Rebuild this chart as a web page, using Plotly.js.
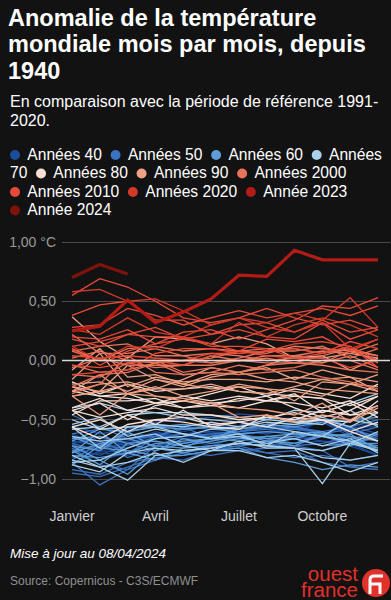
<!DOCTYPE html>
<html>
<head>
<meta charset="utf-8">
<script src="https://cdn.plot.ly/plotly-3.0.1.min.js"></script>
<style>
  html, body { margin: 0; padding: 0; background: #121212; }
  #chart { width: 391px; height: 600px; }
</style>
</head>
<body>
<div id="chart"></div>
<script>
// ---- Données ----
const mois = [1, 2, 3, 4, 5, 6, 7, 8, 9, 10, 11, 12];
const moisTicks = [1, 4, 7, 10];
const moisLabels = ['Janvier', 'Avril', 'Juillet', 'Octobre'];
const yTicks = [-1, -0.5, 0, 0.5, 1];
const yLabels = ['\u22121,00', '\u22120,50', '0,00', '0,50', '1,00 °C'];

const legendeLabels = ['Années 40', 'Années 50', 'Années 60', 'Années 70', 'Années 80', 'Années 90',
  'Années 2000', 'Années 2010', 'Années 2020', 'Année 2023', 'Année 2024'];
const legendeCouleurs = ['#1c4c9c', '#3a73c2', '#5d9dd9', '#a9d0ea', '#f7e0d6', '#f0a184',
  '#e97259', '#e94a38', '#d33a29', '#b31b17', '#7e130b'];

const annees40 = [
  [-0.82,-0.78,-0.80,-0.72,-0.70,-0.68,-0.62,-0.60,-0.58,-0.62,-0.55,-0.62],
  [-0.70,-0.65,-0.72,-0.62,-0.60,-0.55,-0.52,-0.58,-0.62,-0.50,-0.58,-0.55],
  [-0.68,-0.72,-0.66,-0.64,-0.62,-0.60,-0.66,-0.70,-0.62,-0.64,-0.68,-0.66],
  [-0.78,-0.74,-0.70,-0.62,-0.66,-0.64,-0.60,-0.62,-0.56,-0.50,-0.58,-0.52],
  [-0.55,-0.62,-0.58,-0.52,-0.50,-0.48,-0.45,-0.47,-0.50,-0.52,-0.60,-0.64],
  [-0.62,-0.72,-0.60,-0.54,-0.58,-0.56,-0.55,-0.48,-0.50,-0.52,-0.64,-0.78],
  [-0.66,-0.70,-0.68,-0.60,-0.66,-0.72,-0.64,-0.66,-0.64,-0.68,-0.70,-0.80],
  [-0.74,-0.80,-0.70,-0.66,-0.62,-0.60,-0.62,-0.60,-0.58,-0.52,-0.60,-0.68],
  [-0.70,-0.84,-0.78,-0.66,-0.64,-0.62,-0.66,-0.64,-0.66,-0.64,-0.70,-0.76],
  [-0.88,-0.76,-0.78,-0.70,-0.72,-0.74,-0.70,-0.72,-0.70,-0.68,-0.72,-0.80]
];
const annees50 = [
  [-0.95,-0.98,-0.90,-0.82,-0.80,-0.76,-0.74,-0.78,-0.76,-0.86,-0.90,-0.86],
  [-0.86,-1.05,-0.92,-0.72,-0.64,-0.62,-0.60,-0.56,-0.54,-0.50,-0.62,-0.56],
  [-0.66,-0.68,-0.78,-0.66,-0.62,-0.64,-0.60,-0.58,-0.56,-0.62,-0.72,-0.64],
  [-0.62,-0.58,-0.56,-0.54,-0.56,-0.58,-0.60,-0.56,-0.58,-0.60,-0.66,-0.62],
  [-0.84,-0.70,-0.82,-0.74,-0.78,-0.80,-0.76,-0.74,-0.72,-0.70,-0.64,-0.78],
  [-0.74,-0.88,-0.92,-0.84,-0.78,-0.74,-0.72,-0.70,-0.74,-0.76,-0.90,-0.92],
  [-0.92,-0.96,-0.86,-0.82,-0.84,-0.76,-0.72,-0.78,-0.82,-0.80,-0.84,-0.80],
  [-0.76,-0.72,-0.74,-0.64,-0.58,-0.56,-0.60,-0.54,-0.56,-0.60,-0.56,-0.50],
  [-0.46,-0.56,-0.66,-0.64,-0.56,-0.66,-0.62,-0.66,-0.70,-0.62,-0.58,-0.64],
  [-0.70,-0.76,-0.62,-0.64,-0.70,-0.66,-0.64,-0.66,-0.72,-0.76,-0.68,-0.66]
];
const annees60 = [
  [-0.72,-0.84,-0.96,-0.76,-0.70,-0.66,-0.68,-0.64,-0.62,-0.60,-0.72,-0.62],
  [-0.68,-0.58,-0.60,-0.56,-0.58,-0.56,-0.62,-0.60,-0.62,-0.64,-0.62,-0.76],
  [-0.66,-0.64,-0.70,-0.68,-0.72,-0.68,-0.64,-0.66,-0.64,-0.62,-0.64,-0.68],
  [-0.78,-0.60,-0.78,-0.70,-0.68,-0.66,-0.58,-0.54,-0.50,-0.48,-0.56,-0.68],
  [-0.64,-0.74,-0.76,-0.80,-0.80,-0.76,-0.74,-0.82,-0.86,-0.92,-0.88,-0.90],
  [-0.80,-0.82,-0.78,-0.84,-0.74,-0.72,-0.70,-0.68,-0.70,-0.64,-0.70,-0.70],
  [-0.78,-0.70,-0.66,-0.72,-0.74,-0.64,-0.62,-0.68,-0.66,-0.72,-0.70,-0.74],
  [-0.76,-0.88,-0.70,-0.76,-0.66,-0.70,-0.66,-0.64,-0.66,-0.60,-0.68,-0.72],
  [-0.88,-0.72,-0.60,-0.74,-0.78,-0.72,-0.70,-0.68,-0.72,-0.62,-0.64,-0.74],
  [-0.72,-0.76,-0.60,-0.56,-0.54,-0.56,-0.58,-0.54,-0.56,-0.52,-0.50,-0.48]
];
const annees70 = [
  [-0.54,-0.48,-0.64,-0.58,-0.62,-0.66,-0.64,-0.70,-0.66,-0.72,-0.66,-0.78],
  [-0.80,-0.90,-1.01,-0.80,-0.76,-0.74,-0.70,-0.72,-0.74,-0.76,-0.70,-0.76],
  [-0.86,-0.84,-0.74,-0.66,-0.64,-0.58,-0.56,-0.52,-0.54,-0.50,-0.56,-0.44],
  [-0.40,-0.36,-0.42,-0.44,-0.48,-0.50,-0.52,-0.56,-0.60,-0.64,-0.68,-0.76],
  [-0.88,-0.94,-0.78,-0.74,-0.76,-0.74,-0.70,-0.72,-0.74,-0.82,-0.84,-0.80],
  [-0.64,-0.68,-0.66,-0.62,-0.72,-0.76,-0.76,-0.82,-0.80,-0.86,-0.94,-0.86],
  [-0.84,-0.90,-0.86,-0.78,-0.86,-0.76,-0.68,-0.74,-0.74,-1.04,-0.70,-0.60],
  [-0.58,-0.56,-0.46,-0.44,-0.44,-0.46,-0.48,-0.50,-0.52,-0.54,-0.42,-0.56],
  [-0.50,-0.58,-0.56,-0.56,-0.62,-0.66,-0.62,-0.72,-0.60,-0.64,-0.50,-0.54],
  [-0.56,-0.74,-0.56,-0.54,-0.56,-0.52,-0.56,-0.50,-0.42,-0.44,-0.36,-0.28]
];
const annees80 = [
  [-0.40,-0.32,-0.42,-0.36,-0.30,-0.34,-0.30,-0.34,-0.36,-0.40,-0.34,-0.44],
  [-0.22,-0.30,-0.28,-0.36,-0.40,-0.36,-0.34,-0.30,-0.40,-0.48,-0.42,-0.30],
  [-0.56,-0.50,-0.60,-0.50,-0.48,-0.54,-0.52,-0.56,-0.48,-0.50,-0.52,-0.34],
  [-0.26,-0.30,-0.32,-0.36,-0.34,-0.38,-0.40,-0.34,-0.28,-0.44,-0.36,-0.48],
  [-0.42,-0.58,-0.46,-0.54,-0.42,-0.56,-0.52,-0.48,-0.44,-0.50,-0.60,-0.68],
  [-0.56,-0.66,-0.54,-0.50,-0.52,-0.56,-0.58,-0.46,-0.52,-0.50,-0.60,-0.52],
  [-0.42,-0.48,-0.44,-0.40,-0.46,-0.46,-0.50,-0.48,-0.50,-0.42,-0.46,-0.44],
  [-0.42,-0.36,-0.50,-0.38,-0.34,-0.28,-0.22,-0.30,-0.24,-0.28,-0.32,-0.20],
  [-0.18,-0.28,-0.20,-0.26,-0.24,-0.22,-0.26,-0.28,-0.30,-0.32,-0.46,-0.38],
  [-0.46,-0.34,-0.34,-0.32,-0.40,-0.38,-0.32,-0.34,-0.30,-0.32,-0.38,-0.30]
];
const annees90 = [
  [-0.30,-0.26,-0.04,-0.16,-0.20,-0.24,-0.22,-0.24,-0.34,-0.18,-0.20,-0.26],
  [-0.20,-0.18,-0.26,-0.16,-0.22,-0.14,-0.10,-0.16,-0.18,-0.24,-0.26,-0.28],
  [-0.22,-0.26,-0.20,-0.30,-0.32,-0.36,-0.48,-0.46,-0.52,-0.46,-0.50,-0.38],
  [-0.30,-0.26,-0.28,-0.30,-0.34,-0.36,-0.40,-0.42,-0.46,-0.36,-0.52,-0.40],
  [-0.30,-0.46,-0.28,-0.24,-0.24,-0.20,-0.26,-0.28,-0.22,-0.16,-0.14,-0.18],
  [-0.08,0.10,-0.14,-0.12,-0.20,-0.12,-0.10,-0.06,-0.16,-0.08,-0.14,-0.26],
  [-0.26,-0.12,-0.28,-0.22,-0.30,-0.26,-0.20,-0.24,-0.26,-0.30,-0.20,-0.22],
  [-0.26,-0.20,-0.18,-0.24,-0.16,-0.06,-0.10,-0.04,0.04,0.02,0.06,0.02],
  [0.37,0.16,0.02,0.20,0.18,0.14,0.20,0.14,0.02,0.04,-0.08,0.02],
  [-0.16,0.06,-0.22,-0.14,-0.18,-0.16,-0.16,-0.18,-0.14,-0.16,-0.20,-0.12]
];
const annees2000 = [
  [-0.22,-0.12,-0.10,-0.02,-0.12,-0.10,-0.12,-0.10,-0.08,-0.14,-0.18,-0.24],
  [-0.12,-0.14,-0.02,-0.06,-0.04,-0.04,0.00,0.02,-0.02,-0.02,0.08,0.00],
  [0.08,0.12,0.14,0.04,0.04,0.06,0.04,0.00,0.02,-0.02,0.04,-0.06],
  [0.08,0.00,0.00,-0.02,0.00,-0.02,0.02,0.08,0.08,0.12,0.02,0.10],
  [0.02,0.08,0.00,0.00,-0.10,-0.06,-0.10,-0.04,-0.02,0.04,0.10,-0.02],
  [0.10,0.00,0.10,0.12,0.08,0.10,0.08,0.06,0.12,0.10,0.08,0.04],
  [-0.06,0.02,-0.04,-0.04,-0.04,0.04,0.00,0.04,0.04,0.08,0.06,0.14],
  [0.22,0.06,0.06,0.10,0.04,-0.02,0.00,-0.02,-0.02,-0.04,-0.08,-0.10],
  [-0.28,-0.20,0.04,-0.10,-0.12,-0.10,-0.04,-0.08,-0.06,0.00,0.00,-0.08],
  [-0.04,-0.10,-0.08,-0.02,0.00,0.02,0.08,0.10,0.10,0.06,0.10,0.04]
];
const annees2010 = [
  [0.12,0.16,0.22,0.20,0.20,0.12,0.12,0.10,0.02,0.06,0.12,-0.06],
  [-0.04,-0.06,-0.02,0.00,-0.04,0.04,0.08,0.04,0.02,0.02,-0.06,0.00],
  [-0.12,-0.10,-0.08,0.06,0.10,0.10,0.06,0.08,0.14,0.16,0.12,0.00],
  [0.04,0.02,0.04,0.02,0.00,0.06,0.06,0.08,0.10,0.06,0.16,0.10],
  [0.10,-0.04,0.08,0.14,0.18,0.14,0.08,0.18,0.16,0.20,0.08,0.18],
  [0.20,0.18,0.26,0.14,0.24,0.26,0.18,0.26,0.34,0.46,0.44,0.53],
  [0.55,0.69,0.62,0.50,0.36,0.32,0.36,0.44,0.36,0.30,0.34,0.26],
  [0.38,0.47,0.50,0.34,0.34,0.22,0.30,0.32,0.24,0.34,0.24,0.28],
  [0.18,0.12,0.22,0.28,0.18,0.22,0.26,0.20,0.18,0.32,0.18,0.26],
  [0.28,0.30,0.44,0.38,0.30,0.36,0.42,0.36,0.40,0.44,0.38,0.46]
];
const annees2020 = [
  [0.58,0.60,0.50,0.52,0.42,0.30,0.36,0.32,0.40,0.34,0.53,0.28],
  [0.12,0.00,0.12,0.10,0.20,0.14,0.32,0.20,0.30,0.36,0.30,0.20],
  [0.26,0.22,0.36,0.24,0.20,0.30,0.36,0.28,0.24,0.32,0.10,0.18]
];
const annee2023 = [0.25,0.29,0.51,0.32,0.41,0.52,0.72,0.71,0.93,0.85,0.85,0.85];
const annee2024 = [0.70,0.81,0.73];

// ---- Traces ----
const groupes = [annees40, annees50, annees60, annees70, annees80, annees90,
  annees2000, annees2010, annees2020, [annee2023], [annee2024]];
const traces = [];
groupes.forEach((g, gi) => {
  const epais = gi >= 9;
  g.forEach(vals => {
    traces.push({
      type: 'scatter', mode: 'lines',
      x: mois.slice(0, vals.length), y: vals,
      line: { color: legendeCouleurs[gi], width: epais ? 3.2 : 1.3 },
      hoverinfo: 'skip', showlegend: false
    });
  });
});

// ---- Layout helpers ----
const FONT = 'Liberation Sans, Arial, Helvetica, sans-serif';
const W = 391, L = 62, R = 1, T = 232, B = 103;
const PW = W - L - R, PH = 600 - T - B;
const px = x => (x - L) / PW;          // pixel -> paper x
const py = y => (600 - B - y) / PH;    // pixel -> paper y

// ---- Légende (texte + pastilles) ----
const LEG_SIZE = 15.6;
const ctx = document.createElement('canvas').getContext('2d');
ctx.font = LEG_SIZE + 'px "Liberation Sans"';
const largeur = s => ctx.measureText(s).width;
const NB = '\u00a0';
const SLOT = NB.repeat(4), GAP = NB.repeat(2);
const [mot70a, mot70b] = legendeLabels[3].split(' ');
const rangsSpec = [
  [['d', 0], ['t', legendeLabels[0]], ['g'], ['d', 1], ['t', legendeLabels[1]], ['g'],
   ['d', 2], ['t', legendeLabels[2]], ['g'], ['d', 3], ['t', mot70a]],
  [['t', mot70b], ['g'], ['d', 4], ['t', legendeLabels[4]], ['g'], ['d', 5], ['t', legendeLabels[5]], ['g'],
   ['d', 6], ['t', legendeLabels[6]]],
  [['d', 7], ['t', legendeLabels[7]], ['g'], ['d', 8], ['t', legendeLabels[8]], ['g'],
   ['d', 9], ['t', legendeLabels[9]]],
  [['d', 10], ['t', legendeLabels[10]]]
];
const rangY = [155, 173.5, 192, 210.5];
const X0 = 9;
const pastilles = [];
const rangsTexte = rangsSpec.map((spec, r) => {
  let x = X0, s = '';
  spec.forEach(tok => {
    if (tok[0] === 'd') {
      pastilles.push({ i: tok[1], cx: x + 6, cy: rangY[r] });
      s += SLOT; x += largeur(SLOT);
    } else if (tok[0] === 't') {
      s += tok[1]; x += largeur(tok[1]);
    } else {
      s += GAP; x += largeur(GAP);
    }
  });
  return s;
});

const annotations = [];
annotations.push({
  xref: 'paper', yref: 'paper', x: px(8), y: py(111), xanchor: 'left', yanchor: 'middle',
  align: 'left', showarrow: false,
  text: '<span style="font-size:16px">En comparaison avec la période de référence 1991-</span><br><span style="font-size:16px">2020.</span>',
  font: { family: FONT, size: 14.6, color: '#ffffff' }
});
annotations.push({
  xref: 'paper', yref: 'paper', x: px(X0 - 1), y: py(182.5), xanchor: 'left', yanchor: 'middle',
  align: 'left', showarrow: false,
  text: rangsTexte.map(t => `<span style="font-size:${LEG_SIZE}px">${t}</span>`).join('<br>'),
  font: { family: FONT, size: 14.23, color: '#ffffff' }
});
annotations.push({
  xref: 'paper', yref: 'paper', x: px(8), y: py(553), xanchor: 'left', yanchor: 'middle',
  showarrow: false, text: '<i>Mise à jour au 08/04/2024</i>',
  font: { family: FONT, size: 13.5, color: '#ffffff' }
});
annotations.push({
  xref: 'paper', yref: 'paper', x: px(8), y: py(581), xanchor: 'left', yanchor: 'middle',
  showarrow: false, text: 'Source: Copernicus - C3S/ECMWF',
  font: { family: FONT, size: 12, color: '#8f8f8f' }
});
annotations.push({
  xref: 'paper', yref: 'paper', x: px(360), y: py(581), xanchor: 'right', yanchor: 'middle',
  align: 'right', showarrow: false,
  text: '<span style="font-size:20.5px">ouest</span><br><span style="font-size:20.5px">france</span>',
  font: { family: FONT, size: 12.3, color: '#e2302a' }
});

const RAYON = 5;
const shapes = [
  { type: 'line', xref: 'paper', yref: 'y', x0: 0, x1: 1, y0: 0, y1: 0,
    line: { color: '#d8d8d8', width: 1.5 }, layer: 'above' },
  { type: 'circle', xref: 'paper', yref: 'paper', x0: px(362), x1: px(390), y0: py(597), y1: py(569),
    fillcolor: '#e2302a', line: { width: 0 } },
  { type: 'path', xref: 'paper', yref: 'paper',
    path: `M ${px(383)},${py(576)} L ${px(374)},${py(576)} Q ${px(370)},${py(576)} ${px(370)},${py(580)} L ${px(370)},${py(594)} M ${px(370)},${py(584)} L ${px(380)},${py(584)} L ${px(380)},${py(594)}`,
    line: { color: '#ffffff', width: 3 } }
].concat(pastilles.map(p => ({
  type: 'circle', xref: 'paper', yref: 'paper',
  x0: px(p.cx - RAYON), x1: px(p.cx + RAYON), y0: py(p.cy + RAYON), y1: py(p.cy - RAYON),
  fillcolor: legendeCouleurs[p.i], line: { width: 0 }
})));

const titre = ['Anomalie de la température', 'mondiale mois par mois, depuis', '1940']
  .map(l => `<span style="font-size:23.5px">${l}</span>`).join('<br>');

const layout = {
  width: 391, height: 600,
  paper_bgcolor: '#121212', plot_bgcolor: '#121212',
  margin: { l: L, r: R, t: T, b: B },
  showlegend: false,
  title: {
    text: titre, x: 8 / 391, xref: 'container', xanchor: 'left',
    y: 1 - 25.5 / 600, yref: 'container', yanchor: 'top',
    font: { family: FONT, size: 20.6, color: '#ffffff', weight: 700 }
  },
  xaxis: {
    range: [1 - 10 / 27.8, 12 + 12 / 27.8],
    tickvals: moisTicks, ticktext: moisLabels,
    showgrid: false, zeroline: false, showline: false, ticks: '',
    ticklabelstandoff: 9,
    tickfont: { family: FONT, size: 14, color: '#cfcfcf' },
    fixedrange: true
  },
  yaxis: {
    range: [-1 - 18 / 118.5, 1 + 10 / 118.5],
    tickvals: yTicks, ticktext: yLabels,
    showgrid: true, gridcolor: '#4a4a4a', gridwidth: 1,
    zeroline: false, showline: false, ticks: '',
    ticklabelstandoff: 5,
    tickfont: { family: FONT, size: 14, color: '#9a9a9a' },
    fixedrange: true
  },
  annotations, shapes
};

Plotly.newPlot('chart', traces, layout, { staticPlot: true, displayModeBar: false });
</script>
</body>
</html>
